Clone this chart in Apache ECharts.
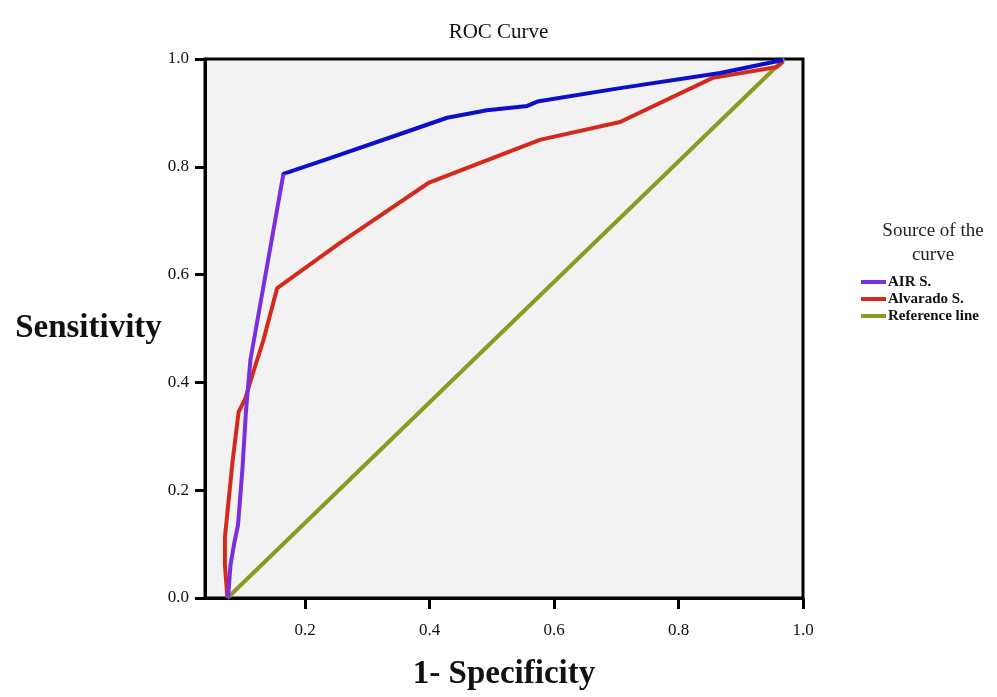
<!DOCTYPE html>
<html>
<head>
<meta charset="utf-8">
<script src="https://cdn.jsdelivr.net/npm/echarts@6/dist/echarts.min.js"></script>
<style>html,body{margin:0;padding:0;background:#fff}#c{width:997px;height:697px}</style>
</head>
<body>
<div id="c"></div>
<script>
// 1 - Specificity, Sensitivity pairs
const airX = [0.076, 0.080, 0.086, 0.092, 0.099, 0.105, 0.112, 0.165, 0.240, 0.348, 0.428, 0.492, 0.557, 0.573, 0.706, 0.867, 0.968];
const airY = [0.000, 0.061, 0.102, 0.135, 0.237, 0.349, 0.442, 0.787, 0.816, 0.859, 0.891, 0.905, 0.913, 0.921, 0.946, 0.974, 0.998];
const alvX = [0.075, 0.071, 0.071, 0.083, 0.093, 0.104, 0.116, 0.133, 0.155, 0.256, 0.398, 0.577, 0.706, 0.855, 0.958, 0.968];
const alvY = [0.000, 0.061, 0.113, 0.250, 0.345, 0.371, 0.417, 0.479, 0.575, 0.659, 0.770, 0.850, 0.883, 0.965, 0.985, 0.995];
const refX = [0.075, 0.970];
const refY = [0.000, 1.000];
const xTicks = [0.2, 0.4, 0.6, 0.8, 1.0];
const seriesNames = ['AIR S.', 'Alvarado S.', 'Reference line'];
const airKneeIndex = 7; // AIR line is purple up to this point, blue after

const pairs = (xs, ys) => xs.map((x, i) => [x, ys[i]]);
const serif = 'Liberation Serif';
const colAirLow = '#7a2ee0', colAirHigh = '#0b10c8', colAlv = '#d42a1e', colRef = '#8c9a22';

const chart = echarts.init(document.getElementById('c'), null, {renderer: 'canvas'});
chart.setOption({
  backgroundColor: '#ffffff',
  animation: false,
  title: [
    {text: 'ROC Curve', left: 'center', top: 17, textStyle: {fontFamily: serif, fontSize: 21, fontWeight: 'normal', color: '#111'}},
    {text: 'Source of the\ncurve', left: 928, top: 214, textAlign: 'center',
     textStyle: {fontFamily: serif, fontSize: 19, fontWeight: 'normal', color: '#222', lineHeight: 24}}
  ],
  legend: {
    orient: 'vertical', left: 856, top: 269, itemWidth: 25, itemHeight: 4, itemGap: 1, icon: 'rect',
    textStyle: {fontFamily: serif, fontSize: 15, fontWeight: 'bold', color: '#111', lineHeight: 16, padding: [0, 0, 0, -3]},
    data: [
      {name: seriesNames[0], itemStyle: {color: colAirLow}},
      {name: seriesNames[1], itemStyle: {color: colAlv}},
      {name: seriesNames[2], itemStyle: {color: colRef}}
    ]
  },
  grid: {left: 205, right: 194, top: 59, bottom: 99, show: true, backgroundColor: '#f2f2f2', borderColor: '#000', borderWidth: 3},
  xAxis: {
    type: 'value', min: 0.039, max: 1.0,
    name: '1- Specificity', nameLocation: 'middle', nameGap: 60,
    nameTextStyle: {fontFamily: serif, fontSize: 33, fontWeight: 'bold', color: '#111'},
    axisLine: {show: true, lineStyle: {color: '#000', width: 3}},
    axisTick: {show: true, length: 11, lineStyle: {color: '#000', width: 3}, customValues: xTicks},
    axisLabel: {fontFamily: serif, fontSize: 17, color: '#111', margin: 24, customValues: xTicks,
      formatter: v => v.toFixed(1)},
    splitLine: {show: false}
  },
  yAxis: {
    type: 'value', min: 0, max: 1.0, interval: 0.2,
    name: 'Sensitivity', nameLocation: 'middle', nameRotate: 0, nameGap: 34,
    nameTextStyle: {fontFamily: serif, fontSize: 33, fontWeight: 'bold', color: '#111', align: 'right', padding: [0, 0, 16, 0]},
    axisLine: {show: true, lineStyle: {color: '#000', width: 3}},
    axisTick: {show: true, length: 10, lineStyle: {color: '#000', width: 3}},
    axisLabel: {fontFamily: serif, fontSize: 17, color: '#111', margin: 16, formatter: v => v.toFixed(1)},
    splitLine: {show: false}
  },
  series: [
    {name: seriesNames[0], type: 'line', data: pairs(airX, airY), showSymbol: false, symbol: 'none',
     lineStyle: {width: 4, color: colAirHigh}, itemStyle: {color: colAirLow}, z: 4},
    {name: seriesNames[1], type: 'line', data: pairs(alvX, alvY), showSymbol: false, symbol: 'none',
     lineStyle: {width: 4, color: colAlv}, itemStyle: {color: colAlv}, z: 3},
    {name: seriesNames[2], type: 'line', data: pairs(refX, refY), showSymbol: false, symbol: 'none',
     lineStyle: {width: 4, color: colRef}, itemStyle: {color: colRef}, z: 2}
  ]
});

// colour the AIR line purple below its knee and blue above it, using the chart's own scale
const knee = chart.convertToPixel({seriesIndex: 0}, [airX[airKneeIndex], airY[airKneeIndex]]);
const h = chart.getHeight();
const off = knee[1] / h;
chart.setOption({
  series: [{
    lineStyle: {
      color: {
        type: 'linear', x: 0, y: 0, x2: 0, y2: h, global: true,
        colorStops: [
          {offset: 0, color: colAirHigh}, {offset: off, color: colAirHigh},
          {offset: off, color: colAirLow}, {offset: 1, color: colAirLow}
        ]
      }
    }
  }]
});
</script>
</body>
</html>
